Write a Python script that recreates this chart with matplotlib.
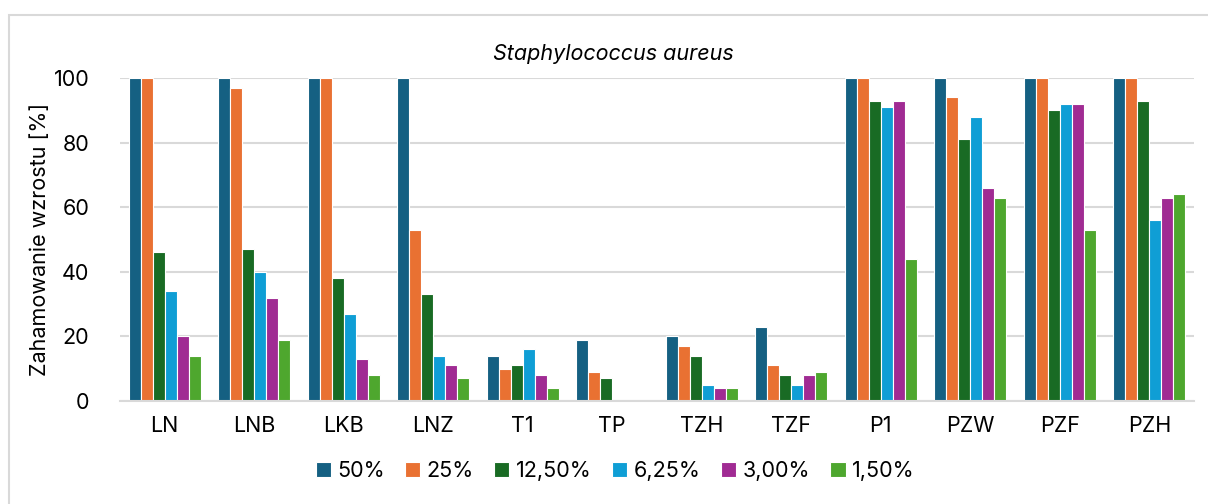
import numpy as np
import matplotlib.pyplot as plt
from matplotlib.patches import Rectangle

plt.rcParams['font.family'] = ['Inter', 'DejaVu Sans']

samples = ['LN', 'LNB', 'LKB', 'LNZ', 'T1', 'TP', 'TZH', 'TZF', 'P1', 'PZW', 'PZF', 'PZH']
conc = ['50%', '25%', '12,50%', '6,25%', '3,00%', '1,50%']
c50 = [100, 100, 100, 100, 14, 19, 20, 23, 100, 100, 100, 100]
c25 = [100, 97, 100, 53, 10, 9, 17, 11, 100, 94, 100, 100]
c125 = [46, 47, 38, 33, 11, 7, 14, 8, 93, 81, 90, 93]
c625 = [34, 40, 27, 14, 16, 0, 5, 5, 91, 88, 92, 56]
c3 = [20, 32, 13, 11, 8, 0, 4, 8, 93, 66, 92, 63]
c15 = [14, 19, 8, 7, 4, 0, 4, 9, 44, 63, 53, 64]
series = [c50, c25, c125, c625, c3, c15]
colors = ['#156082', '#e97132', '#196b24', '#0f9ed5', '#a02b93', '#4ea72e']

fig = plt.figure(figsize=(12.08, 5.04), dpi=100)
ax = fig.add_axes([120/1208, 103/504, 1074/1208, 323/504])

# chart border
fig.patches.append(Rectangle((8.5/1208, -0.1), 1.2, (504-14.5)/504 + 0.1,
                             transform=fig.transFigure, fill=False,
                             edgecolor='#d9d9d9', linewidth=1.5))

x = np.arange(len(samples))
w = 0.135
for i, vals in enumerate(series):
    ax.bar(x + (i - 2.5) * w, vals, width=w, color=colors[i], label=conc[i],
           edgecolor='white', linewidth=0.8, zorder=3)

ax.set_xlim(-0.5, len(samples) - 0.5)
ax.set_ylim(0, 100)
ax.set_yticks(range(0, 101, 20))
ax.set_xticks(x)
ax.set_xticklabels(samples)
ax.tick_params(axis='both', length=0, labelsize=15.5, colors='#000000')
ax.tick_params(axis='x', pad=11)
ax.tick_params(axis='y', pad=22)
ax.grid(axis='y', color='#d9d9d9', linewidth=1.5, zorder=0)
for s in ['left', 'right', 'top']:
    ax.spines[s].set_visible(False)
ax.spines['bottom'].set_color('#d9d9d9')
ax.spines['bottom'].set_linewidth(1.5)
ax.spines['bottom'].set_zorder(4)

ax.set_ylabel('Zahamowanie wzrostu [%]', fontsize=15.5, labelpad=3)
fig.text(0.508, 1 - 54/504, 'Staphylococcus aureus', fontsize=15.5, style='italic',
         ha='center', va='center')

ax.legend(loc='center', bbox_to_anchor=(0.461, -0.218), ncol=6, frameon=False,
          fontsize=15.5, handlelength=0.7, handleheight=0.7, handletextpad=0.3,
          columnspacing=0.95)

fig.savefig('out.png', dpi=100)
